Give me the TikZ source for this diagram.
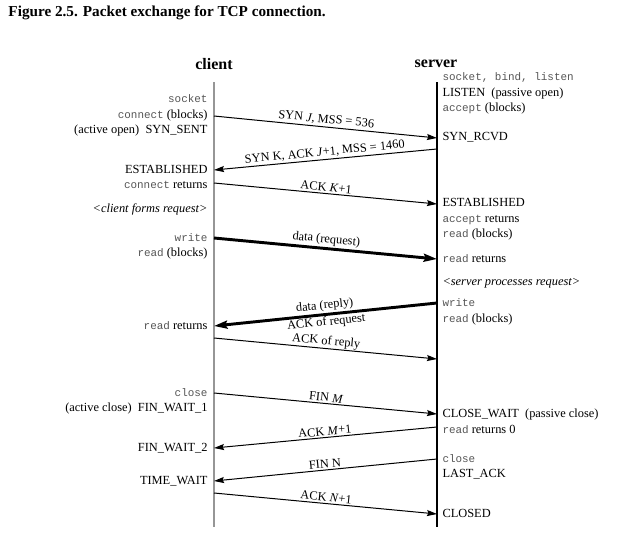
\documentclass[tikz,border=0pt]{standalone}
\usepackage{fontspec}
\setmainfont{Liberation Serif}
\setmonofont{Liberation Mono}
\usetikzlibrary{arrows.meta}
\definecolor{codegray}{RGB}{85,85,85}
\definecolor{lifegray}{RGB}{150,150,150}
\newcommand{\code}[1]{{\ttfamily\fontsize{8.2}{10}\selectfont\color{codegray}#1}}
\tikzset{every picture/.style={line width=0.75pt}}

\begin{document}
\begin{tikzpicture}[x=0.75pt,y=0.75pt,yscale=-1,xscale=1,
	lt/.style={anchor=east,inner sep=0pt,text height=6.5pt,text depth=2pt,font=\fontsize{9.3}{10}\selectfont},
	rt/.style={anchor=west,inner sep=0pt,text height=6.5pt,text depth=2pt,font=\fontsize{9.3}{10}\selectfont},
	head/.style={font=\bfseries\fontsize{12}{14}\selectfont},
	msg/.style={-{Stealth[length=7.5pt,width=4.5pt,inset=1pt]},line width=0.75pt},
	bigmsg/.style={-{Stealth[length=10pt,width=6pt,inset=1.5pt]},line width=2.2pt},
	tag/.style={inner sep=1.2pt,font=\fontsize{9.3}{10}\selectfont},
	dn/.style={tag,rotate=-5.7,anchor=south},
	up/.style={tag,rotate=5.7,anchor=south},
	upunder/.style={tag,rotate=5.7,anchor=north,inner sep=0.6pt}]
	\useasboundingbox (0,0) rectangle (625,543);

	% Title
	\node (title) [anchor=west,inner sep=0pt,font=\bfseries\fontsize{11.4}{13}\selectfont] at (8,13) {Figure 2.5. Packet exchange for TCP connection.};
	\node (client) [head] at (214,64) {client};
	\node (server) [head] at (436,64) {server};

	%Lifelines
	\coordinate (cTop) at (214,82);
	\coordinate (cBot) at (214,527);
	\coordinate (sTop) at (437,82);
	\coordinate (sBot) at (437,527);
	\draw [lifegray,line width=1.6pt] (cTop) -- (cBot);
	\draw [line width=1.1pt] (sTop) -- (sBot);

	%Message ends on the client line
	\coordinate (c1) at (214,116);
	\coordinate (c2) at (214,170);
	\coordinate (c3) at (214,183);
	\coordinate (c4) at (214,238);
	\coordinate (c5) at (214,326);
	\coordinate (c6) at (214,338);
	\coordinate (c7) at (214,393);
	\coordinate (c8) at (214,448);
	\coordinate (c9) at (214,481);
	\coordinate (c10) at (214,493);
	%Message ends on the server line
	\coordinate (s1) at (437,138);
	\coordinate (s2) at (437,149);
	\coordinate (s3) at (437,204);
	\coordinate (s4) at (437,259);
	\coordinate (s5) at (437,303);
	\coordinate (s6) at (437,359);
	\coordinate (s7) at (437,414);
	\coordinate (s8) at (437,427);
	\coordinate (s9) at (437,459);
	\coordinate (s10) at (437,514);

	%Messages
	\draw [msg] (c1) -- node (mSyn) [dn] {SYN \textit{J}, MSS = 536} (s1);
	\draw [msg] (s2) -- node (mSynAck) [up] {SYN K, ACK \textit{J}+1, MSS = 1460} (c2);
	\draw [msg] (c3) -- node (mAck) [dn] {ACK \textit{K}+1} (s3);
	\draw [bigmsg] (c4) -- node (mReq) [dn] {data (request)} (s4);
	\draw [bigmsg] (s5) -- node (mReply) [up] {data (reply)} node (mAckReq) [upunder] {ACK of request} (c5);
	\draw [msg] (c6) -- node (mAckReply) [dn,inner sep=0.6pt] {ACK of reply} (s6);
	\draw [msg] (c7) -- node (mFinM) [dn] {FIN \textit{M}} (s7);
	\draw [msg] (s8) -- node (mAckM) [up] {ACK \textit{M}+1} (c8);
	\draw [msg] (s9) -- node (mFinN) [up] {FIN N} (c9);
	\draw [msg] (c10) -- node (mAckN) [dn] {ACK \textit{N}+1} (s10);

	% Client text
	\node (cSocket) [lt] at (208,99) {\code{socket}};
	\node (cConnect) [lt] at (208,115) {\code{connect} (blocks)};
	\node (cSynSent) [lt] at (208,130) {(active open)\ \ SYN\_SENT};
	\node (cEstab) [lt] at (208,170) {ESTABLISHED};
	\node (cConnRet) [lt] at (208,185) {\code{connect} returns};
	\node (cForms) [lt] at (208,209) {\textit{<client forms request>}};
	\node (cWrite) [lt] at (208,238) {\code{write}};
	\node (cRead) [lt] at (208,253) {\code{read} (blocks)};
	\node (cReadRet) [lt] at (208,326) {\code{read} returns};
	\node (cClose) [lt] at (208,393) {\code{close}};
	\node (cFinWait1) [lt] at (208,408) {(active close)\ \ FIN\_WAIT\_1};
	\node (cFinWait2) [lt] at (208,448) {FIN\_WAIT\_2};
	\node (cTimeWait) [lt] at (208,481) {TIME\_WAIT};

	% Server text
	\node (sSocket) [rt] at (442,77) {\code{socket, bind, listen}};
	\node (sListen) [rt] at (442,93) {LISTEN\ \ (passive open)};
	\node (sAccept) [rt] at (442,108) {\code{accept} (blocks)};
	\node (sSynRcvd) [rt] at (442,137) {SYN\_RCVD};
	\node (sEstab) [rt] at (442,203) {ESTABLISHED};
	\node (sAccRet) [rt] at (442,219) {\code{accept} returns};
	\node (sRead) [rt] at (442,234) {\code{read} (blocks)};
	\node (sReadRet) [rt] at (442,259) {\code{read} returns};
	\node (sProc) [rt] at (442,282) {\textit{<server processes request>}};
	\node (sWrite) [rt] at (442,303) {\code{write}};
	\node (sReadAgain) [rt] at (442,319) {\code{read} (blocks)};
	\node (sCloseWait) [rt] at (442,414) {CLOSE\_WAIT\ \ (passive close)};
	\node (sReadZero) [rt] at (442,430) {\code{read} returns 0};
	\node (sClose) [rt] at (442,459) {\code{close}};
	\node (sLastAck) [rt] at (442,474) {LAST\_ACK};
	\node (sClosed) [rt] at (442,514) {CLOSED};

\end{tikzpicture}
\end{document}
